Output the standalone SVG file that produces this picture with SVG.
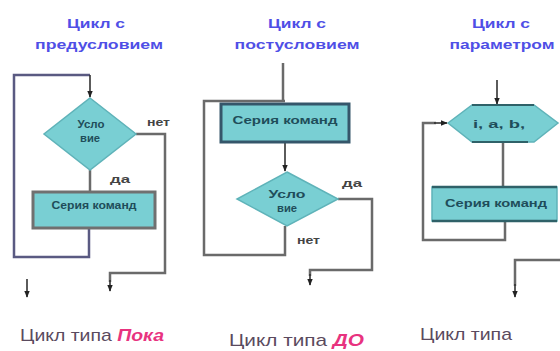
<svg xmlns="http://www.w3.org/2000/svg" width="560" height="351" viewBox="0 0 560 351">
<defs>
<marker id="arr" viewBox="0 0 10 10" refX="9" refY="5" markerWidth="7" markerHeight="7" markerUnits="userSpaceOnUse" orient="auto">
<path d="M0,1 L10,5 L0,9 Z" fill="#222"/>
</marker>
<style>
.title{font-family:"Liberation Sans",Arial,sans-serif;font-weight:bold;font-size:12px;fill:#4f4fe6;text-anchor:middle}
.node{fill:#79cfd3}
.ntxt{font-family:"Liberation Sans",Arial,sans-serif;font-size:10px;font-weight:bold;fill:#1f4d5a;text-anchor:middle}
.lbl{font-family:"Liberation Sans",Arial,sans-serif;font-size:10px;font-weight:bold;fill:#444}
.cap{font-family:"Liberation Sans",Arial,sans-serif;font-size:17px;fill:#5a4a5e}
.hl{fill:#e8337f;font-style:italic;font-weight:bold}
.ln{fill:none;stroke:#6a6a6a;stroke-width:2.5}
.ln2{fill:none;stroke:#5a5a82;stroke-width:2.5}
.ar{fill:none;stroke:#333;stroke-width:1.6}
</style>
</defs>
<rect width="560" height="351" fill="#ffffff"/>

<g id="titles">
<text class="title" x="96" y="28" textLength="58" lengthAdjust="spacingAndGlyphs">Цикл с</text>
<text class="title" x="99" y="49" textLength="128" lengthAdjust="spacingAndGlyphs">предусловием</text>
<text class="title" x="297" y="28" textLength="58" lengthAdjust="spacingAndGlyphs">Цикл с</text>
<text class="title" x="297" y="49" textLength="125" lengthAdjust="spacingAndGlyphs">постусловием</text>
<text class="title" x="501" y="28" textLength="58" lengthAdjust="spacingAndGlyphs">Цикл с</text>
<text class="title" x="502" y="49" textLength="105" lengthAdjust="spacingAndGlyphs">параметром</text>
</g>

<g id="connectors">
<!-- diagram 1 -->
<path class="ln2" d="M89,228 V257 H14 V75 H90"/>
<path class="ar" d="M90,75 V97" marker-end="url(#arr)"/>
<path class="ln" d="M90,170 V192"/>
<path class="ln" d="M136,134 H165 V273 H110 V282"/>
<path class="ar" d="M110,280 V291" marker-end="url(#arr)"/>
<path class="ar" d="M27,279 V297" marker-end="url(#arr)"/>
<!-- diagram 2 -->
<path class="ln" d="M283,63 V101"/>
<path class="ln" d="M285,226 V255 H204 V101 H285"/>
<path class="ar" d="M285,142 V171" marker-end="url(#arr)"/>
<path class="ln" d="M338,199 H372 V270 H310 V276"/>
<path class="ar" d="M310,274 V285" marker-end="url(#arr)"/>
<!-- diagram 3 -->
<path class="ar" d="M497,80 V104" marker-end="url(#arr)"/>
<path class="ln" d="M503,142 V187"/>
<path class="ln" d="M505,221 V240 H423 V123 H436"/>
<path class="ar" d="M434,123 H447" marker-end="url(#arr)"/>
<path class="ln" d="M562,260 H515 V286"/>
<path class="ar" d="M515,284 V297" marker-end="url(#arr)"/>
</g>

<g id="d1-cond">
<polygon class="node" points="90,98 136,134 90,170 44,134" stroke="#5fb3b9" stroke-width="1.5"/>
<text class="ntxt" x="91" y="128" textLength="27" lengthAdjust="spacingAndGlyphs">Усло</text>
<text class="ntxt" x="90" y="142" textLength="20" lengthAdjust="spacingAndGlyphs">вие</text>
</g>
<g id="d1-body">
<rect class="node" x="33" y="192" width="122" height="36" stroke="#707070" stroke-width="3"/>
<text class="ntxt" x="94" y="209" textLength="85" lengthAdjust="spacingAndGlyphs">Серия команд</text>
</g>
<text class="lbl" x="147" y="126" textLength="23" lengthAdjust="spacingAndGlyphs">нет</text>
<text class="lbl" x="110" y="183" textLength="20" lengthAdjust="spacingAndGlyphs">да</text>

<g id="d2-body">
<rect class="node" x="221" y="104" width="128" height="38" stroke="#35566a" stroke-width="3"/>
<text class="ntxt" x="285" y="124" textLength="105" lengthAdjust="spacingAndGlyphs">Серия команд</text>
</g>
<g id="d2-cond">
<polygon class="node" points="287,172 338,199 287,226 237,199" stroke="#5fb3b9" stroke-width="1.5"/>
<text class="ntxt" x="287" y="198" textLength="37" lengthAdjust="spacingAndGlyphs">Усло</text>
<text class="ntxt" x="287" y="212" textLength="20" lengthAdjust="spacingAndGlyphs">вие</text>
</g>
<text class="lbl" x="342" y="187" textLength="20" lengthAdjust="spacingAndGlyphs">да</text>
<text class="lbl" x="297" y="244" textLength="23" lengthAdjust="spacingAndGlyphs">нет</text>

<g id="d3-param">
<polygon class="node" points="448,123 472,105 534,105 558,123 534,142 472,142" stroke="#5fb3b9" stroke-width="1.5"/>
<path d="M472,105 H534 M472,142 H528" stroke="#2f6168" stroke-width="2" fill="none"/>
<text class="ntxt" x="499" y="128" textLength="52" lengthAdjust="spacingAndGlyphs">i, a, b,</text>
</g>
<g id="d3-body">
<rect class="node" x="432" y="187" width="125" height="34" stroke="#5fb3b9" stroke-width="1.5"/>
<path d="M432,187 H557 M432,221 H557" stroke="#2f6168" stroke-width="2.5" fill="none"/>
<text class="ntxt" x="496" y="207" textLength="102" lengthAdjust="spacingAndGlyphs">Серия команд</text>
</g>

<g id="captions">
<text class="cap" x="20" y="341" textLength="144" lengthAdjust="spacingAndGlyphs">Цикл типа <tspan class="hl">Пока</tspan></text>
<text class="cap" x="229" y="346" textLength="135" lengthAdjust="spacingAndGlyphs">Цикл типа <tspan class="hl">ДО</tspan></text>
<text class="cap" x="420" y="340" textLength="92" lengthAdjust="spacingAndGlyphs">Цикл типа</text>
</g>
</svg>
